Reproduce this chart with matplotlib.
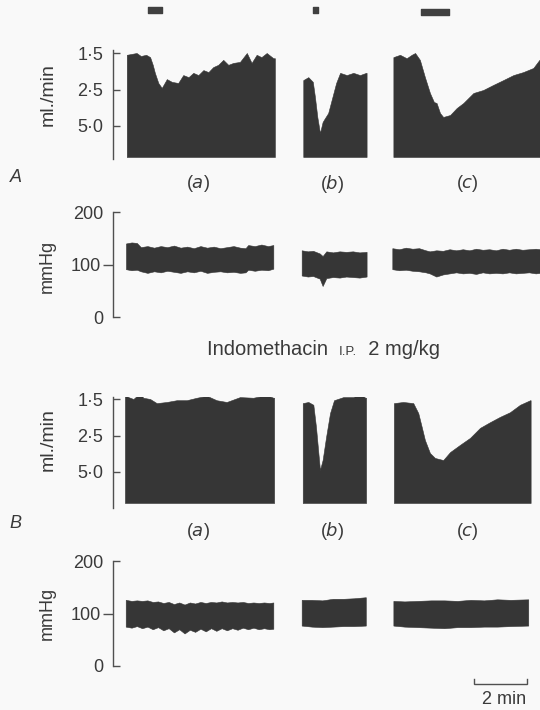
import numpy as np
import matplotlib
matplotlib.use("Agg")
import matplotlib.pyplot as plt

plt.rcParams['font.family'] = ['Liberation Sans', 'DejaVu Sans']

# ---------------- data (time in min, measured from the y-axis line) ----------------
seg_letters = ['a', 'b', 'c']
flow_ticks = [1.5, 2.5, 5.0]
flow_tick_labels = ['1·5', '2·5', '5·0']
bp_major_ticks = [0, 200]
bp_major_labels = ['0', '200']
bp_minor_ticks = [100]
bp_minor_labels = ['100']

# drug infusion markers (min)
marker_start = [1.32, 7.55, 11.62]
marker_end = [1.85, 7.74, 12.68]

# ---- A: control, perfusion flow (ml/min, upper envelope of drop record)
A_flow_a_t = [0.52, 0.89, 1.05, 1.25, 1.40, 1.50, 1.58, 1.71, 1.84, 2.03, 2.22, 2.46, 2.65, 2.85, 3.03, 3.22,
              3.41, 3.60, 3.78, 3.97, 4.16, 4.35, 4.54, 4.79, 5.05, 5.23, 5.42, 5.60, 5.80, 6.05, 6.11]
A_flow_a = [1.53, 1.50, 1.55, 1.53, 1.57, 1.72, 1.91, 2.22, 2.41, 2.09, 2.18, 2.22, 1.97, 2.03, 1.91, 1.97,
            1.84, 1.89, 1.77, 1.72, 1.62, 1.72, 1.68, 1.66, 1.50, 1.68, 1.53, 1.57, 1.50, 1.59, 1.59]
A_flow_b_t = [7.18, 7.37, 7.54, 7.62, 7.71, 7.81, 7.91, 8.00, 8.12, 8.25, 8.42, 8.57, 8.82, 9.07, 9.32, 9.55, 9.57]
A_flow_b = [2.12, 2.03, 2.18, 2.77, 4.03, 6.56, 4.55, 4.13, 3.70, 2.91, 2.22, 1.91, 1.97, 1.91, 1.97, 1.91, 1.91]
A_flow_c_t = [10.58, 10.83, 11.08, 11.27, 11.40, 11.58, 11.77, 11.96, 12.11, 12.21, 12.34, 12.46, 12.72,
              12.97, 13.22, 13.60, 13.97, 14.35, 14.73, 15.11, 15.48, 15.86, 16.09, 16.12]
A_flow_c = [1.57, 1.53, 1.59, 1.53, 1.50, 1.62, 2.03, 2.61, 3.01, 3.06, 3.70, 4.03, 3.86,
            3.35, 3.06, 2.61, 2.50, 2.29, 2.12, 1.97, 1.89, 1.79, 1.62, 1.62]

# ---- A: blood pressure (mmHg, upper / lower envelope)
A_bp_a_t = [0.49, 0.7, 0.9, 1.05, 1.3, 1.55, 1.8, 2.05, 2.3, 2.55, 2.8, 3.05, 3.3, 3.55, 3.8, 4.05,
            4.3, 4.55, 4.8, 5.0, 5.1, 5.35, 5.6, 5.85, 6.05]
A_bp_a_hi = [141, 143, 142, 134, 136, 133, 136, 134, 137, 133, 135, 132, 136, 133, 135, 132,
             134, 136, 133, 132, 138, 136, 139, 136, 138]
A_bp_a_lo = [92, 90, 91, 88, 85, 88, 86, 89, 87, 85, 88, 86, 89, 85, 87, 88,
             86, 87, 85, 86, 91, 89, 91, 90, 93]
A_bp_b_t = [7.12, 7.35, 7.55, 7.8, 7.91, 8.05, 8.3, 8.55, 8.8, 9.05, 9.3, 9.57]
A_bp_b_hi = [128, 126, 127, 122, 117, 126, 124, 126, 125, 126, 124, 125]
A_bp_b_lo = [80, 78, 79, 74, 60, 75, 77, 76, 78, 77, 76, 78]
A_bp_c_t = [10.54, 10.8, 11.05, 11.3, 11.55, 11.8, 11.95, 12.2, 12.45, 12.7, 12.95, 13.2, 13.45, 13.7,
            13.95, 14.2, 14.45, 14.7, 14.95, 15.2, 15.45, 15.7, 15.95, 16.12]
A_bp_c_hi = [132, 130, 133, 131, 132, 128, 126, 128, 127, 130, 128, 130, 128, 131,
             129, 130, 128, 131, 129, 131, 129, 130, 131, 130]
A_bp_c_lo = [92, 90, 91, 89, 88, 86, 84, 78, 82, 84, 86, 84, 85, 83,
             86, 84, 85, 84, 86, 84, 85, 86, 84, 85]

# ---- B: after indomethacin, perfusion flow
B_flow_a_t = [0.45, 0.58, 0.77, 1.02, 1.14, 1.40, 1.65, 2.03, 2.40, 2.78, 3.16, 3.54, 3.91, 4.29,
              4.79, 5.29, 5.80, 6.05, 6.08]
B_flow_a = [1.41, 1.47, 1.50, 1.41, 1.48, 1.50, 1.57, 1.55, 1.52, 1.52, 1.48, 1.45, 1.52, 1.55,
            1.47, 1.48, 1.44, 1.48, 1.48]
B_flow_b_t = [7.16, 7.37, 7.56, 7.66, 7.75, 7.81, 7.91, 8.04, 8.19, 8.34, 8.69, 9.07, 9.32, 9.52, 9.55]
B_flow_b = [1.57, 1.55, 1.60, 2.15, 3.29, 4.80, 3.78, 2.54, 1.77, 1.52, 1.47, 1.47, 1.42, 1.48, 1.48]
B_flow_c_t = [10.60, 10.95, 11.33, 11.52, 11.65, 11.77, 11.96, 12.15, 12.46, 12.72, 13.09, 13.47,
              13.85, 14.23, 14.60, 14.98, 15.36, 15.74, 15.76]
B_flow_c = [1.57, 1.55, 1.57, 1.77, 2.15, 2.65, 3.29, 3.62, 3.78, 3.23, 2.86, 2.57,
            2.18, 2.00, 1.86, 1.75, 1.60, 1.52, 1.52]

# ---- B: blood pressure
B_bp_a_t = [0.48, 0.7, 0.9, 1.1, 1.3, 1.5, 1.7, 1.9, 2.1, 2.3, 2.5, 2.7, 2.9, 3.1, 3.3, 3.5, 3.7,
            3.9, 4.1, 4.3, 4.5, 4.7, 4.9, 5.1, 5.3, 5.5, 5.7, 5.9, 6.05]
B_bp_a_hi = [126, 124, 125, 124, 125, 122, 123, 120, 122, 118, 121, 117, 121, 119, 122, 120, 122,
             121, 123, 121, 122, 121, 122, 120, 121, 120, 121, 120, 121]
B_bp_a_lo = [75, 73, 76, 72, 75, 70, 74, 68, 72, 64, 70, 62, 69, 65, 71, 66, 72, 67, 72, 68, 72,
             69, 73, 70, 73, 70, 72, 70, 71]
B_bp_b_t = [7.12, 7.5, 7.9, 8.3, 8.7, 9.1, 9.54]
B_bp_b_hi = [126, 126, 125, 128, 128, 129, 131]
B_bp_b_lo = [77, 75, 74, 75, 76, 76, 77]
B_bp_c_t = [10.58, 11.0, 11.5, 12.0, 12.5, 13.0, 13.5, 14.0, 14.5, 15.0, 15.67]
B_bp_c_hi = [124, 123, 124, 125, 125, 124, 126, 125, 127, 126, 127]
B_bp_c_lo = [77, 75, 74, 73, 72, 74, 74, 75, 75, 76, 77]

scale_bar_min = 2

# ---------------- layout / style ----------------
W, H = 540, 710
PPM = 26.5          # pixels per minute
X0 = 113            # pixel column of the y-axis lines
TRACE = '#363636'
INK = '#3a3a3a'
AXC = '#505050'
BG = '#f9f9f9'
FS = 13

# drop-counter scale: pen height proportional to 1/flow
cal_inv = [0.0, 1 / 5.0, 1 / 2.5, 1 / 1.5, 1 / 1.25]
cal_h = [0.0, 31.5, 67.0, 104.0, 122.5]


def flow_height(f):
    return np.interp(1.0 / np.asarray(f, dtype=float), cal_inv, cal_h)


fig = plt.figure(figsize=(W / 100, H / 100), dpi=100)
fig.patch.set_facecolor(BG)
XMAX = (W - X0) / PPM


def add_ax(top, bottom, left=X0, right=W):
    ax = fig.add_axes([left / W, 1 - bottom / H, (right - left) / W, (bottom - top) / H])
    ax.set_facecolor('none')
    for s in ['top', 'right', 'bottom']:
        ax.spines[s].set_visible(False)
    ax.spines['left'].set_color(AXC)
    ax.spines['left'].set_linewidth(1.0)
    ax.set_xticks([])
    ax.set_xlim(0, XMAX)
    return ax


def flow_panel(top, bottom, base_px, segs):
    ax = add_ax(top, bottom)
    ax.set_ylim(-(bottom - base_px), base_px - top)
    for t, f in segs:
        ax.fill_between(t, 0, flow_height(f), color=TRACE, lw=0.4, edgecolor=TRACE)
    ax.set_yticks(flow_height(flow_ticks), flow_tick_labels)
    ax.tick_params(axis='y', direction='in', length=5, width=1.0, color=AXC, pad=7,
                   labelsize=FS, labelcolor=INK)
    return ax


def bp_panel(top, bottom, segs):
    ax = add_ax(top, bottom)
    ax.set_ylim(0, 200)
    for t, hi, lo in segs:
        ax.fill_between(t, lo, hi, color=TRACE, lw=0.4, edgecolor=TRACE)
    ax.set_yticks(bp_major_ticks, bp_major_labels)
    ax.set_yticks(bp_minor_ticks, bp_minor_labels, minor=True)
    ax.tick_params(axis='y', which='major', direction='in', length=5, width=1.0, color=AXC,
                   pad=7, labelsize=FS, labelcolor=INK)
    ax.tick_params(axis='y', which='minor', direction='out', length=7, width=1.0, color=AXC,
                   pad=2, labelsize=FS, labelcolor=INK, labelleft=True)
    return ax


flow_panel(50, 159, 157, [(A_flow_a_t, A_flow_a), (A_flow_b_t, A_flow_b), (A_flow_c_t, A_flow_c)])
bp_panel(212.5, 317.5, [(A_bp_a_t, A_bp_a_hi, A_bp_a_lo), (A_bp_b_t, A_bp_b_hi, A_bp_b_lo),
                        (A_bp_c_t, A_bp_c_hi, A_bp_c_lo)])
flow_panel(397, 508, 503, [(B_flow_a_t, B_flow_a), (B_flow_b_t, B_flow_b), (B_flow_c_t, B_flow_c)])
bp_panel(561, 666, [(B_bp_a_t, B_bp_a_hi, B_bp_a_lo), (B_bp_b_t, B_bp_b_hi, B_bp_b_lo),
                    (B_bp_c_t, B_bp_c_hi, B_bp_c_lo)])

# overlay axes for markers and scale bar (x in min, y in pixels from top)
ov = fig.add_axes([0, 0, 1, 1])
ov.set_facecolor('none')
ov.axis('off')
ov.set_xlim(-X0 / PPM, XMAX)
ov.set_ylim(H, 0)
mk_y = [(7, 6), (7, 6), (9, 6)]
for s, e, (y0, hgt) in zip(marker_start, marker_end, mk_y):
    ov.broken_barh([(s, e - s)], (y0, hgt), color='#404040')

sb_end = (527 - X0) / PPM
sb_start = sb_end - scale_bar_min
ov.plot([sb_start, sb_start, sb_end, sb_end], [679, 684, 684, 679], color=AXC, lw=1.0,
        solid_joinstyle='miter')
ov.text((sb_start + sb_end) / 2 + 0.15, 699, f'{scale_bar_min} min', ha='center', va='center',
        fontsize=FS, color=INK)


def ftext(x, y, s, **kw):
    return fig.text(x / W, 1 - y / H, s, color=INK, **kw)


# axis titles
for yc in (95, 440):
    ftext(48, yc, 'ml./min', rotation=90, ha='center', va='center', fontsize=14)
for yc in (266, 613):
    ftext(47, yc, 'mmHg', rotation=90, ha='center', va='center', fontsize=FS)

# panel letters and segment labels
ftext(16, 177, 'A', ha='center', va='center', fontsize=FS, style='italic')
ftext(15, 524, 'B', ha='center', va='center', fontsize=FS, style='italic')
seg_x = [198, 332, 467]
for yc in (184, 531):
    for xc, l in zip(seg_x, seg_letters):
        ftext(xc, yc, '(' + r'$\mathit{' + l + '}$' + ')', ha='center', va='center', fontsize=FS)

# treatment caption
CAP_Y = 355
t1 = ftext(207, CAP_Y, 'Indomethacin  ', ha='left', va='baseline', fontsize=14.5)
t2 = fig.text(0, 0, 'I.P.', color=INK, fontsize=9.5)
t3 = fig.text(0, 0, '  2 mg/kg', color=INK, fontsize=14.5)
fig.canvas.draw()
r = fig.canvas.get_renderer()
bb1 = t1.get_window_extent(r)
t2.set_position((bb1.x1 / W, 1 - CAP_Y / H))
t2.set_va('baseline')
bb2 = t2.get_window_extent(r)
t3.set_position((bb2.x1 / W, 1 - CAP_Y / H))
t3.set_va('baseline')

fig.savefig('out.png', dpi=100, facecolor=BG)
